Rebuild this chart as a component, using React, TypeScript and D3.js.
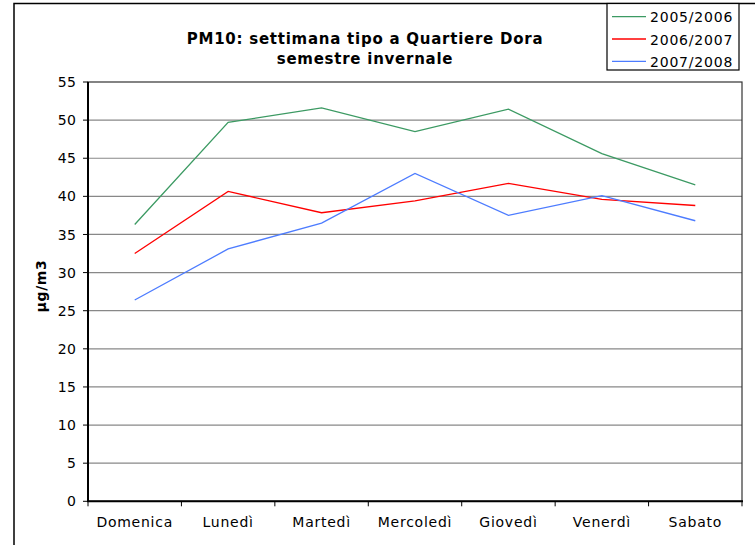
import React from "react";
import * as d3 from "d3";

const days = ["Domenica", "Lunedì", "Martedì", "Mercoledì", "Giovedì", "Venerdì", "Sabato"];
const s0506 = [36.3, 49.7, 51.6, 48.5, 51.45, 45.6, 41.5];
const s0607 = [32.5, 40.65, 37.85, 39.4, 41.7, 39.6, 38.8];
const s0708 = [26.4, 33.1, 36.5, 43.0, 37.5, 40.1, 36.8];
const yTicks = [0, 5, 10, 15, 20, 25, 30, 35, 40, 45, 50, 55];

const series = [
    { name: "2005/2006", values: s0506, color: "#3c9a63" },
    { name: "2006/2007", values: s0607, color: "#ff0000" },
    { name: "2007/2008", values: s0708, color: "#4d7cff" },
];

const W = 755;
const H = 545;
const left = 88;
const right = 742;
const top = 82;
const bottom = 501.3;
const font = "Verdana, 'DejaVu Sans', sans-serif";

const App = () => {
    const x = d3.scaleBand<string>().domain(days).range([left, right]);
    const y = d3.scaleLinear().domain([0, 55]).range([bottom, top]);
    const line = d3
        .line<number>()
        .x((_, i) => (x(days[i]) ?? 0) + x.bandwidth() / 2)
        .y((d) => y(d));

    const bounds = [...days.map((d) => x(d) ?? 0), right];

    return (
        <svg
            width={W}
            height={H}
            style={{ position: "absolute", left: 0, top: 0, background: "#fff" }}
            fontFamily={font}
        >
            <rect x={14} y={3.5} width={800} height={600} fill="#fff" stroke="#000" strokeWidth={1.5} />

            {/* title */}
            <text x={365} y={44} textAnchor="middle" fontSize={15} fontWeight="bold" letterSpacing={0.75}>
                PM10: settimana tipo a Quartiere Dora
            </text>
            <text x={365} y={64} textAnchor="middle" fontSize={15} fontWeight="bold" letterSpacing={0.75}>
                semestre invernale
            </text>

            {/* grid */}
            {yTicks.slice(1, -1).map((t) => (
                <line key={t} x1={left} x2={right} y1={y(t)} y2={y(t)} stroke="#888" strokeWidth={1.2} />
            ))}
            <rect x={left} y={top} width={right - left} height={bottom - top} fill="none" stroke="#333" strokeWidth={1.2} />
            <line x1={left} x2={left} y1={top} y2={bottom} stroke="#000" strokeWidth={2} />
            <line x1={left - 1} x2={right + 1} y1={bottom} y2={bottom} stroke="#000" strokeWidth={2} />

            {/* y axis */}
            {yTicks.map((t) => (
                <g key={t}>
                    <line x1={left - 5} x2={left} y1={y(t)} y2={y(t)} stroke="#000" />
                    <text x={76.5} y={y(t)} dy="0.36em" textAnchor="end" fontSize={14} letterSpacing={0.5}>
                        {t}
                    </text>
                </g>
            ))}
            <text
                transform={`translate(46,286) rotate(-90)`}
                textAnchor="middle"
                fontSize={14}
                fontWeight="bold"
                letterSpacing={0.6}
            >
                µg/m3
            </text>

            {/* x axis */}
            {bounds.map((b, i) => (
                <line key={i} x1={b} x2={b} y1={bottom} y2={bottom + 5} stroke="#000" />
            ))}
            {days.map((d) => (
                <text
                    key={d}
                    x={(x(d) ?? 0) + x.bandwidth() / 2}
                    y={527}
                    textAnchor="middle"
                    fontSize={14}
                    letterSpacing={0.75}
                >
                    {d}
                </text>
            ))}

            {/* lines */}
            {series.map((s) => (
                <path key={s.name} d={line(s.values) ?? ""} fill="none" stroke={s.color} strokeWidth={1.3} />
            ))}

            {/* legend */}
            <rect x={607} y={3.5} width={132} height={66.5} fill="#fff" stroke="#000" strokeWidth={1.2} />
            {series.map((s, i) => (
                <g key={s.name}>
                    <line x1={612} x2={646} y1={16.7 + i * 22.3} y2={16.7 + i * 22.3} stroke={s.color} strokeWidth={1.3} />
                    <text x={650} y={21.8 + i * 22.7} fontSize={14} letterSpacing={0.8}>
                        {s.name}
                    </text>
                </g>
            ))}
        </svg>
    );
};

export default App;
